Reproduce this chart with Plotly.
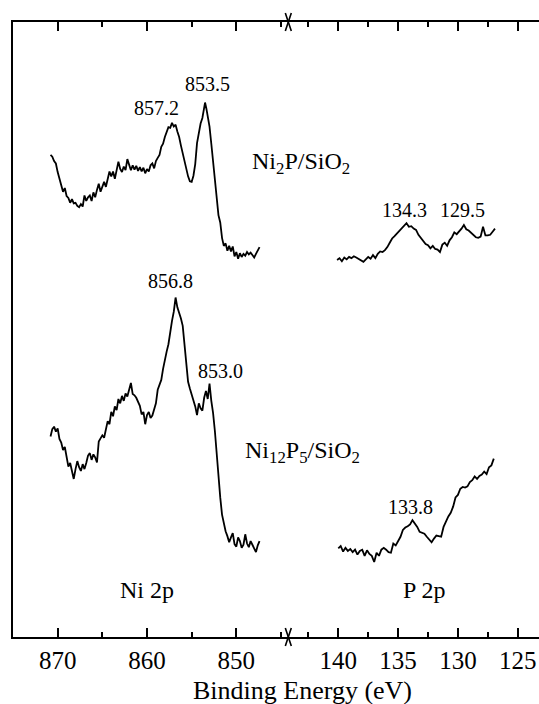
import plotly.graph_objects as go

# ---------------------------------------------------------------
# XPS spectra: Ni 2p (left panel) and P 2p (right panel)
# Binding energy in eV, intensity in arbitrary offset units
# ---------------------------------------------------------------

# Ni2P/SiO2, Ni 2p region
ni2p_ni2p = [
    (870.8, 78.4), (870.6, 78.1), (870.4, 77.4), (870.2, 77.0), (870.0, 75.6),
    (869.8, 74.4), (869.6, 73.5), (869.4, 72.4), (869.2, 73.0), (869.0, 71.7),
    (868.8, 71.4), (868.6, 70.6), (868.4, 71.2), (868.2, 70.5), (868.0, 70.6),
    (867.8, 70.1), (867.6, 69.9), (867.4, 70.4), (867.2, 70.0), (867.0, 71.8),
    (866.8, 70.9), (866.6, 71.5), (866.4, 71.8), (866.2, 70.9), (866.0, 72.3),
    (865.8, 71.5), (865.6, 72.7), (865.4, 73.7), (865.2, 72.4), (865.0, 73.4),
    (864.8, 74.0), (864.6, 73.2), (864.4, 74.6), (864.2, 75.7), (864.0, 74.9),
    (863.8, 75.7), (863.6, 74.5), (863.4, 75.9), (863.2, 77.3), (863.0, 76.1),
    (862.8, 75.6), (862.6, 76.5), (862.4, 75.9), (862.2, 77.7), (862.0, 76.7),
    (861.8, 75.9), (861.6, 76.7), (861.4, 76.0), (861.2, 76.6), (861.0, 75.8),
    (860.8, 76.4), (860.6, 75.7), (860.4, 76.3), (860.2, 75.4), (860.0, 76.1),
    (859.8, 75.7), (859.6, 76.7), (859.4, 77.0), (859.2, 76.2), (859.0, 77.4),
    (858.8, 77.9), (858.6, 78.4), (858.4, 79.7), (858.2, 80.2), (858.0, 81.3),
    (857.8, 82.1), (857.6, 82.9), (857.4, 82.8), (857.2, 83.6), (857.0, 83.0),
    (856.8, 83.3), (856.6, 82.2), (856.4, 81.3), (856.2, 79.9), (856.0, 78.6),
    (855.8, 77.1), (855.6, 75.8), (855.4, 74.9), (855.2, 74.1), (855.0, 74.0),
    (854.8, 75.0), (854.6, 76.9), (854.4, 80.3), (854.2, 82.3), (854.0, 83.5),
    (853.8, 84.4), (853.65, 85.7), (853.5, 86.9), (853.35, 85.9), (853.2, 84.6),
    (853.0, 83.0), (852.8, 80.2), (852.6, 77.4), (852.4, 74.2), (852.2, 70.8),
    (852.0, 68.6), (851.8, 67.4), (851.6, 64.9), (851.4, 63.6), (851.2, 64.0),
    (851.0, 62.8), (850.8, 63.6), (850.6, 62.7), (850.4, 63.5), (850.2, 61.9),
    (850.0, 62.6), (849.8, 61.5), (849.6, 62.4), (849.4, 61.8), (849.2, 62.3),
    (849.0, 62.0), (848.8, 62.6), (848.6, 62.2), (848.4, 62.5), (848.2, 62.1),
    (848.0, 61.7), (847.8, 62.3), (847.6, 62.8), (847.4, 63.4),
]

# Ni2P/SiO2, P 2p region
ni2p_p2p = [
    (140.1, 61.3), (139.9, 61.6), (139.7, 61.1), (139.5, 61.7), (139.3, 61.4),
    (139.1, 61.8), (138.9, 61.6), (138.7, 61.9), (138.5, 61.7), (138.3, 61.5),
    (138.1, 61.2), (137.9, 61.0), (137.7, 61.4), (137.5, 61.8), (137.3, 61.5),
    (137.1, 62.1), (136.9, 61.6), (136.7, 62.3), (136.5, 62.7), (136.3, 62.6),
    (136.1, 62.9), (135.9, 63.4), (135.7, 64.1), (135.5, 64.8), (135.3, 65.2),
    (135.1, 65.6), (134.9, 66.0), (134.7, 66.5), (134.5, 66.8), (134.3, 67.3),
    (134.1, 66.7), (133.9, 66.8), (133.7, 66.4), (133.5, 66.2), (133.3, 65.4),
    (133.1, 64.9), (132.9, 64.5), (132.7, 63.9), (132.5, 63.7), (132.3, 63.2),
    (132.1, 63.6), (131.9, 63.1), (131.7, 63.0), (131.5, 62.6), (131.3, 63.8),
    (131.1, 64.1), (130.9, 63.6), (130.7, 64.5), (130.5, 65.0), (130.3, 65.8),
    (130.1, 65.5), (129.9, 65.9), (129.7, 66.4), (129.5, 67.0), (129.3, 66.3),
    (129.1, 66.1), (128.9, 65.7), (128.7, 65.3), (128.5, 65.0), (128.3, 64.9),
    (128.1, 65.1), (127.9, 66.7), (127.7, 65.3), (127.5, 65.3), (127.3, 65.4),
    (127.1, 65.9), (126.9, 66.4),
]

# Ni12P5/SiO2, Ni 2p region
ni12p5_ni2p = [
    (870.8, 32.6), (870.6, 33.8), (870.4, 34.2), (870.2, 33.4), (870.0, 33.9),
    (869.8, 32.2), (869.6, 31.6), (869.4, 30.4), (869.2, 30.9), (869.0, 29.0),
    (868.8, 27.7), (868.6, 28.3), (868.4, 26.8), (868.2, 25.7), (868.0, 27.3),
    (867.8, 28.6), (867.6, 27.6), (867.4, 27.0), (867.2, 28.1), (867.0, 27.3),
    (866.8, 28.3), (866.6, 29.5), (866.4, 29.9), (866.2, 28.8), (866.0, 29.7),
    (865.8, 29.2), (865.6, 28.4), (865.4, 31.8), (865.2, 32.3), (865.0, 32.8),
    (864.8, 32.4), (864.6, 33.6), (864.4, 35.1), (864.2, 34.6), (864.0, 36.6),
    (863.8, 35.9), (863.6, 37.5), (863.4, 36.9), (863.2, 38.7), (863.0, 38.0),
    (862.8, 39.2), (862.6, 38.4), (862.4, 39.6), (862.2, 39.1), (862.0, 40.4),
    (861.8, 41.3), (861.6, 39.5), (861.4, 39.3), (861.2, 38.9), (861.0, 38.2),
    (860.8, 37.6), (860.6, 36.2), (860.4, 36.6), (860.2, 34.6), (860.0, 36.1),
    (859.8, 36.6), (859.6, 35.6), (859.4, 36.0), (859.2, 37.0), (859.0, 38.0),
    (858.8, 40.2), (858.6, 41.1), (858.4, 41.8), (858.2, 43.6), (858.0, 45.3),
    (857.8, 46.4), (857.6, 47.6), (857.4, 49.8), (857.2, 51.4), (857.0, 52.9),
    (856.8, 55.2), (856.6, 53.6), (856.4, 52.8), (856.2, 51.8), (856.0, 50.6),
    (855.8, 47.5), (855.6, 45.0), (855.4, 41.5), (855.2, 40.4), (855.0, 39.5),
    (854.8, 38.4), (854.6, 37.5), (854.4, 36.1), (854.2, 38.0), (854.0, 37.2),
    (853.8, 36.8), (853.6, 38.9), (853.4, 40.0), (853.2, 38.7), (853.0, 41.2),
    (852.8, 38.4), (852.6, 36.4), (852.4, 33.5), (852.2, 29.6), (852.0, 26.4),
    (851.8, 22.7), (851.6, 19.9), (851.4, 18.3), (851.2, 17.2), (851.0, 16.4),
    (850.8, 15.4), (850.6, 16.2), (850.4, 16.9), (850.2, 15.1), (850.0, 14.7),
    (849.8, 16.2), (849.6, 15.6), (849.4, 14.5), (849.2, 15.0), (849.0, 16.7),
    (848.8, 15.2), (848.6, 14.6), (848.4, 15.6), (848.2, 15.0), (848.0, 14.3),
    (847.8, 13.8), (847.6, 14.9), (847.4, 15.6),
]

# Ni12P5/SiO2, P 2p region
ni12p5_p2p = [
    (140.0, 14.4), (139.8, 14.8), (139.6, 13.9), (139.4, 14.5), (139.2, 14.0),
    (139.0, 14.3), (138.8, 13.8), (138.6, 14.2), (138.4, 13.4), (138.2, 14.0),
    (138.0, 14.2), (137.8, 13.2), (137.6, 14.1), (137.4, 13.5), (137.2, 13.2),
    (137.0, 12.2), (136.8, 13.7), (136.6, 13.2), (136.4, 14.2), (136.2, 14.5),
    (136.0, 14.2), (135.8, 13.8), (135.6, 13.7), (135.4, 15.2), (135.2, 14.9),
    (135.0, 15.6), (134.8, 16.3), (134.6, 17.4), (134.4, 17.8), (134.2, 18.0),
    (134.0, 18.3), (133.8, 19.0), (133.6, 18.5), (133.4, 17.9), (133.2, 17.1),
    (133.0, 16.9), (132.8, 16.8), (132.6, 16.3), (132.4, 15.9), (132.2, 15.4),
    (132.0, 16.0), (131.8, 16.5), (131.6, 16.4), (131.4, 16.3), (131.2, 17.9),
    (131.0, 18.8), (130.8, 19.6), (130.6, 20.2), (130.4, 21.2), (130.2, 22.7),
    (130.0, 23.1), (129.8, 24.1), (129.6, 24.4), (129.4, 24.3), (129.2, 24.5),
    (129.0, 25.2), (128.8, 25.5), (128.6, 26.1), (128.4, 25.7), (128.2, 26.2),
    (128.0, 26.4), (127.8, 26.9), (127.6, 26.5), (127.4, 27.6), (127.2, 27.9),
    (127.0, 29.0),
]

# Peak labels: (text, axis, label x in eV, label y)
peak_labels = [
    ("857.2", "x", 858.9, 86.0),
    ("853.5", "x", 853.2, 90.0),
    ("856.8", "x", 857.4, 57.9),
    ("853.0", "x", 851.8, 43.3),
    ("134.3", "x2", 134.5, 69.5),
    ("129.5", "x2", 129.6, 69.5),
    ("133.8", "x2", 134.0, 21.2),
]

# Sample names and core-level names: (text, axis, x in eV, y, anchor, size)
text_labels = [
    ("Ni<sub>2</sub>P/SiO<sub>2</sub>", "x", 848.5, 77.1, "left", 24),
    ("Ni<sub>12</sub>P<sub>5</sub>/SiO<sub>2</sub>", "x", 849.3, 30.1, "left", 24),
    ("Ni 2p", "x", 860.0, 7.6, "center", 24),
    ("P 2p", "x2", 132.8, 7.6, "center", 24),
]

NI_RANGE = [875.0, 844.18]
P_RANGE = [144.18, 123.22]
BREAK = 0.5234          # paper position of the axis break
SERIF = "'Liberation Serif', 'DejaVu Serif', serif"

fig = go.Figure()

for series, xa in [(ni2p_ni2p, "x"), (ni12p5_ni2p, "x"),
                   (ni2p_p2p, "x2"), (ni12p5_p2p, "x2")]:
    ex, inten = zip(*series)
    fig.add_trace(go.Scatter(
        x=list(ex), y=list(inten), mode="lines", xaxis=xa, yaxis="y",
        line=dict(color="black", width=1.8), hoverinfo="skip",
    ))

for text, xa, xv, yv in peak_labels:
    fig.add_annotation(text=text, x=xv, y=yv, xref=xa, yref="y",
                       showarrow=False, xanchor="center", yanchor="middle",
                       font=dict(family=SERIF, size=20, color="black"))

for text, xa, xv, yv, anchor, size in text_labels:
    fig.add_annotation(text=text, x=xv, y=yv, xref=xa, yref="y",
                       showarrow=False, xanchor=anchor, yanchor="middle",
                       font=dict(family=SERIF, size=size, color="black"))

# axis title, centred under the tick labels
fig.add_annotation(text="Binding Energy (eV)", x=0.5504, y=-0.0862,
                   xref="paper", yref="paper", showarrow=False,
                   xanchor="center", yanchor="middle",
                   font=dict(family=SERIF, size=26, color="black"))

# break marks on the bottom and top axis lines
for ya in (0, 1):
    for sx in (-1, 1):
        fig.add_shape(type="line", xref="paper", yref="paper",
                      xsizemode="pixel", ysizemode="pixel",
                      xanchor=BREAK, yanchor=ya,
                      x0=-3 * sx, x1=3 * sx, y0=-9, y1=9,
                      line=dict(color="black", width=1.6))

common_x = dict(
    showline=True, linewidth=2, linecolor="black", mirror="ticks",
    ticks="inside", ticklen=9, tickwidth=2, tickcolor="black",
    showgrid=False, zeroline=False, ticklabelstandoff=0,
    tickfont=dict(family=SERIF, size=25, color="black"),
)

fig.update_layout(
    width=539, height=704,
    margin=dict(l=13, r=0, t=22, b=67),
    paper_bgcolor="white", plot_bgcolor="white",
    showlegend=False,
    font=dict(family=SERIF, color="black"),
    xaxis=dict(domain=[0, BREAK], range=NI_RANGE, anchor="y",
               tick0=870, dtick=10,
               minor=dict(dtick=5, tick0=870, ticks="inside", ticklen=5,
                          tickwidth=2, tickcolor="black"),
               **common_x),
    xaxis2=dict(domain=[BREAK, 1], range=P_RANGE, anchor="y",
                tick0=140, dtick=5,
                minor=dict(dtick=2.5, tick0=140, ticks="inside", ticklen=5,
                           tickwidth=2, tickcolor="black"),
                **common_x),
    yaxis=dict(domain=[0, 1], range=[0, 100], anchor="x",
               showline=True, linewidth=2, linecolor="black", mirror=False,
               ticks="", showticklabels=False, showgrid=False, zeroline=False),
)

fig.write_html("out.html")
